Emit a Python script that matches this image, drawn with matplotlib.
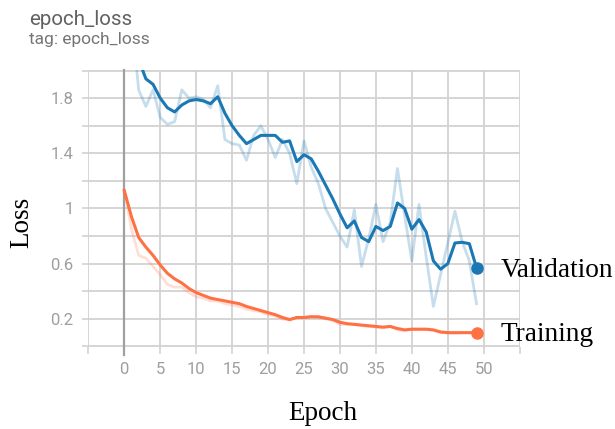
import matplotlib
matplotlib.use('Agg')
import matplotlib.pyplot as plt

epochs = list(range(50))

val_raw = [2.50, 2.40, 1.86, 1.74, 1.86, 1.66, 1.61, 1.63, 1.86, 1.80,
           1.81, 1.79, 1.73, 1.89, 1.50, 1.47, 1.46, 1.35, 1.53, 1.60,
           1.50, 1.37, 1.50, 1.40, 1.18, 1.49, 1.30, 1.18, 1.00, 0.90,
           0.80, 0.72, 0.99, 0.58, 0.78, 1.03, 0.76, 0.90, 1.29, 0.95,
           0.62, 1.03, 0.65, 0.29, 0.52, 0.75, 0.98, 0.76, 0.62, 0.31]

val_smooth = [2.50, 2.30, 2.08, 1.94, 1.90, 1.80, 1.73, 1.70, 1.75, 1.78,
              1.79, 1.78, 1.76, 1.81, 1.69, 1.60, 1.53, 1.47, 1.50, 1.53,
              1.53, 1.53, 1.48, 1.49, 1.34, 1.39, 1.36, 1.27, 1.17, 1.07,
              0.96, 0.86, 0.91, 0.79, 0.76, 0.87, 0.84, 0.87, 1.04, 1.00,
              0.85, 0.92, 0.83, 0.62, 0.56, 0.60, 0.75, 0.755, 0.745, 0.57]

train_raw = [1.13, 0.85, 0.66, 0.64, 0.58, 0.52, 0.45, 0.43, 0.43, 0.39,
             0.36, 0.35, 0.33, 0.33, 0.31, 0.30, 0.29, 0.27, 0.26, 0.25,
             0.23, 0.22, 0.20, 0.19, 0.21, 0.21, 0.22, 0.21, 0.20, 0.19,
             0.16, 0.16, 0.16, 0.15, 0.145, 0.14, 0.135, 0.145, 0.12, 0.115,
             0.125, 0.125, 0.125, 0.115, 0.10, 0.10, 0.095, 0.10, 0.10, 0.10]

train_smooth = [1.13, 0.94, 0.79, 0.72, 0.66, 0.59, 0.53, 0.49, 0.46, 0.42,
                0.39, 0.37, 0.35, 0.34, 0.33, 0.32, 0.31, 0.29, 0.275, 0.26,
                0.245, 0.23, 0.21, 0.195, 0.21, 0.21, 0.215, 0.215, 0.205, 0.195,
                0.175, 0.165, 0.16, 0.155, 0.15, 0.145, 0.14, 0.145, 0.13, 0.12,
                0.125, 0.125, 0.125, 0.12, 0.105, 0.10, 0.10, 0.10, 0.10, 0.10]

x_grid = list(range(-5, 56, 5))
x_labels = ['' if (v < 0 or v > 50) else str(v) for v in x_grid]
y_grid = [round(0.2 * i, 1) for i in range(11)]
y_label_map = {0.2: '0.2', 0.6: '0.6', 1.0: '1', 1.4: '1.4', 1.8: '1.8'}
y_labels = [y_label_map.get(v, '') for v in y_grid]

blue = '#1a78b4'
orange = '#ff7043'
grid_c = '#d2d2d2'
tick_c = '#9e9e9e'

W, H = 615, 429
fig = plt.figure(figsize=(W / 100, H / 100), dpi=100)
ax = fig.add_axes([88 / W, (H - 347) / H, 432 / W, 277 / H])
ax.set_xlim(-5.05, 55.05)
ax.set_ylim(-0.004, 2.004)

for s in ax.spines.values():
    s.set_visible(False)

ax.set_xticks(x_grid)
ax.set_xticklabels(x_labels)
ax.set_yticks(y_grid)
ax.set_yticklabels(y_labels)
ax.grid(True, color=grid_c, linewidth=1.3)
ax.set_axisbelow(True)
ax.tick_params(axis='x', length=5, width=1.2, color=grid_c, pad=6,
               labelsize=12, labelcolor=tick_c)
ax.tick_params(axis='y', length=4.3, width=1.2, color=grid_c, pad=6,
               labelsize=12, labelcolor=tick_c)
for lab in ax.get_xticklabels() + ax.get_yticklabels():
    lab.set_family('Roboto')

ax.axvline(0, ymin=-0.03, ymax=1, color='#a0a0a0', linewidth=1.6, clip_on=False, zorder=2)

ax.plot(epochs, train_raw, color=orange, alpha=0.22, linewidth=2.0, zorder=3)
ax.plot(epochs, val_raw, color=blue, alpha=0.25, linewidth=2.0, zorder=3)
ax.plot(epochs, train_smooth, color=orange, linewidth=2.2, zorder=4)
ax.plot(epochs, val_smooth, color=blue, linewidth=2.2, zorder=4)

ax.plot([epochs[-1]], [val_smooth[-1]], 'o', color=blue, markersize=8, zorder=5, clip_on=False)
ax.plot([epochs[-1]], [train_smooth[-1]], 'o', color=orange, markersize=8, zorder=5, clip_on=False)

serif = ['Liberation Serif', 'DejaVu Serif']
ax.text(52.4, val_smooth[-1] - 0.068, 'Validation', fontsize=19.7, family=serif,
        va='baseline', ha='left', clip_on=False)
ax.text(52.4, train_smooth[-1] - 0.062, 'Training', fontsize=19.7, family=serif,
        va='baseline', ha='left', clip_on=False)

fig.text(22 / W, 1 - 222 / H, 'Loss', rotation=90, fontsize=19.5, family=serif,
         ha='center', va='center')
fig.text(323 / W, 1 - 414 / H, 'Epoch', fontsize=19.5, family=serif,
         ha='center', va='center')

fig.text(29 / W, 1 - 25 / H, 'epoch_loss', fontsize=14.8, family='Roboto',
         color='#616161', ha='left', va='baseline')
fig.text(29 / W, 1 - 44 / H, 'tag: epoch_loss', fontsize=12.5, family='Roboto',
         color='#757575', ha='left', va='baseline')

fig.savefig('out.png', dpi=100)
